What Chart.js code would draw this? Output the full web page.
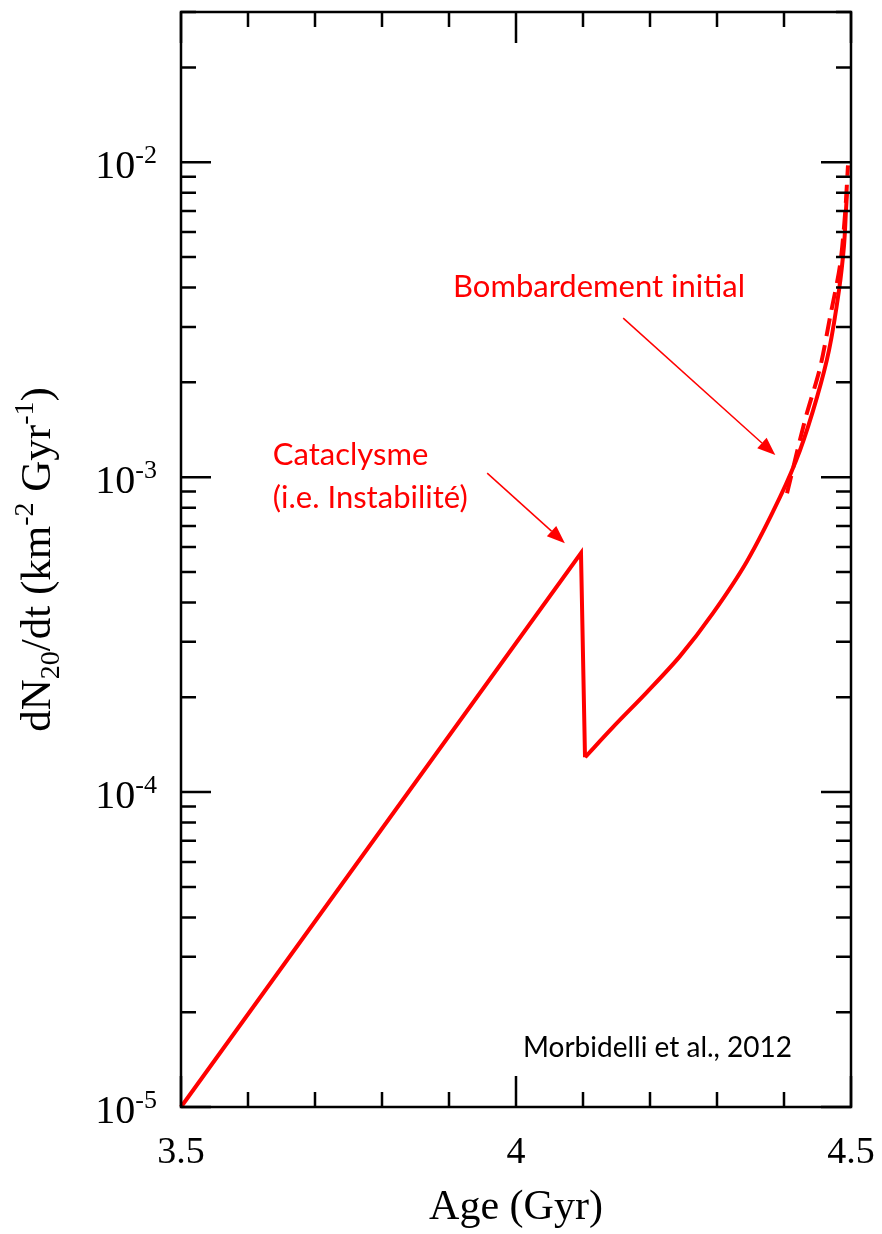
<!DOCTYPE html>
<html>
<head>
<meta charset="utf-8">
<script src="https://cdn.jsdelivr.net/npm/chart.js@4"></script>
<style>body{margin:0;background:#fff}</style>
</head>
<body>
<canvas id="rateChart" width="882" height="1234"></canvas>
<script>
// values: age (Gyr) vs dN20/dt
var ageRise = [3.5, 4.097, 4.103];
var rateRise = [1e-5, 5.74e-4, 1.29e-4];

var ageTail = [4.103, 4.1448, 4.1955, 4.2448, 4.294, 4.3448, 4.394, 4.4239, 4.4493, 4.4672, 4.4821, 4.4896, 4.4925, 4.494];
var rateTail = [1.29e-4, 1.608e-4, 2.077e-4, 2.702e-4, 3.701e-4, 5.41e-4, 8.64e-4, 1.218e-3, 1.795e-3, 2.53e-3, 3.925e-3, 5.45e-3, 7.04e-3, 7.97e-3];

var ageDashed = [4.4045, 4.4313, 4.4537, 4.4687, 4.4836, 4.491, 4.4955];
var rateDashed = [8.89e-4, 1.517e-3, 2.22e-3, 3.22e-3, 4.71e-3, 6.79e-3, 9.78e-3];

// axis ticks
var xTicks = [3.5, 3.6, 3.7, 3.8, 3.9, 4, 4.1, 4.2, 4.3, 4.4, 4.5];
var xMajor = [3.5, 4, 4.5];
var xLabels = ['3.5', '4', '4.5'];
var yExponents = [-5, -4, -3, -2];
var yMantissas = [1, 2, 3, 4, 5, 6, 7, 8, 9];
var yTop = 3e-2;

var yTicks = [];
yExponents.forEach(function (e) {
  yMantissas.forEach(function (m) {
    var v = m * Math.pow(10, e);
    if (v <= yTop * 1.0001) yTicks.push(v);
  });
});

function pts(xs, ys) {
  return xs.map(function (x, i) { return { x: x, y: ys[i] }; });
}

function isDecade(v) {
  var l = Math.log10(v);
  return Math.abs(l - Math.round(l)) < 1e-9;
}

var RED = '#ff0000';
var SERIF = '"Liberation Serif", "Times New Roman", serif';
var SANS = 'Lato, "Open Sans", sans-serif';

function arrow(ctx, x1, y1, x2, y2) {
  var ang = Math.atan2(y2 - y1, x2 - x1), len = 18, half = 7;
  var bx = x2 - len * Math.cos(ang), by = y2 - len * Math.sin(ang);
  ctx.beginPath();
  ctx.moveTo(x1, y1);
  ctx.lineTo(bx, by);
  ctx.stroke();
  ctx.beginPath();
  ctx.moveTo(x2, y2);
  ctx.lineTo(bx + half * Math.sin(ang), by - half * Math.cos(ang));
  ctx.lineTo(bx - half * Math.sin(ang), by + half * Math.cos(ang));
  ctx.closePath();
  ctx.fill();
}

var framePlugin = {
  id: 'frame',
  afterDraw: function (chart) {
    var ctx = chart.ctx, a = chart.chartArea;
    var xs = chart.scales.x, ys = chart.scales.y;
    ctx.save();

    // box + inward ticks on all sides
    ctx.strokeStyle = '#000';
    ctx.lineWidth = 2.5;
    ctx.strokeRect(a.left, a.top, a.right - a.left, a.bottom - a.top);
    ctx.beginPath();
    xTicks.forEach(function (v) {
      var px = xs.getPixelForValue(v);
      var len = xMajor.indexOf(v) >= 0 ? 31 : 15;
      ctx.moveTo(px, a.bottom); ctx.lineTo(px, a.bottom - len);
      ctx.moveTo(px, a.top); ctx.lineTo(px, a.top + len);
    });
    yTicks.forEach(function (v) {
      var py = ys.getPixelForValue(v);
      var len = isDecade(v) ? 30 : 15;
      ctx.moveTo(a.left, py); ctx.lineTo(a.left + len, py);
      ctx.moveTo(a.right, py); ctx.lineTo(a.right - len, py);
    });
    ctx.stroke();

    // x tick labels
    ctx.fillStyle = '#000';
    ctx.font = '38px ' + SERIF;
    ctx.textAlign = 'center';
    ctx.textBaseline = 'alphabetic';
    xMajor.forEach(function (v, i) {
      ctx.fillText(xLabels[i], xs.getPixelForValue(v), a.bottom + 56);
    });

    // y tick labels 10^n
    yTicks.forEach(function (v) {
      if (!isDecade(v)) return;
      var py = ys.getPixelForValue(v);
      var exp = String(Math.round(Math.log10(v)));
      ctx.textAlign = 'left';
      ctx.font = '26px ' + SERIF;
      var ew = ctx.measureText(exp).width;
      ctx.font = '40px ' + SERIF;
      var bw = ctx.measureText('10').width;
      var right = a.left - 24;
      ctx.fillText('10', right - ew - bw, py + 16);
      ctx.font = '26px ' + SERIF;
      ctx.fillText(exp, right - ew, py + 1);
    });

    // x title
    ctx.textAlign = 'center';
    ctx.font = '42px ' + SERIF;
    ctx.fillText('Age (Gyr)', (a.left + a.right) / 2, a.bottom + 112);

    // y title with sub/superscripts
    var runs = [
      { t: 'dN', s: 43, dy: 0 },
      { t: '20', s: 28, dy: 9 },
      { t: '/dt (km', s: 43, dy: 0 },
      { t: '-2', s: 28, dy: -17 },
      { t: ' Gyr', s: 43, dy: 0 },
      { t: '-1', s: 28, dy: -17 },
      { t: ')', s: 43, dy: 0 }
    ];
    var total = 0;
    runs.forEach(function (r) {
      ctx.font = r.s + 'px ' + SERIF;
      r.w = ctx.measureText(r.t).width;
      total += r.w;
    });
    ctx.save();
    ctx.translate(50, (a.top + a.bottom) / 2);
    ctx.rotate(-Math.PI / 2);
    ctx.textAlign = 'left';
    var cx = -total / 2;
    runs.forEach(function (r) {
      ctx.font = r.s + 'px ' + SERIF;
      ctx.fillText(r.t, cx, r.dy);
      cx += r.w;
    });
    ctx.restore();

    // annotations
    function X(v) { return xs.getPixelForValue(v); }
    function Y(v) { return ys.getPixelForValue(v); }
    ctx.textAlign = 'left';
    ctx.fillStyle = RED;
    ctx.strokeStyle = RED;
    ctx.lineWidth = 1.5;
    ctx.font = '31px ' + SANS;
    ctx.fillText('Bombardement initial', X(3.906), Y(3.73e-3), 329);
    ctx.fillText('Cataclysme', X(3.637), Y(1.09e-3), 164);
    ctx.fillText('(i.e. Instabilité)', X(3.637), Y(7.98e-4), 217);
    arrow(ctx, X(4.160), Y(3.20e-3), X(4.387), Y(1.175e-3));
    arrow(ctx, X(3.957), Y(1.03e-3), X(4.073), Y(6.17e-4));

    ctx.fillStyle = '#000';
    ctx.font = '28px ' + SANS;
    ctx.fillText('Morbidelli et al., 2012', X(4.0104), Y(1.44e-5), 284);

    ctx.restore();
  }
};

var rateChart = new Chart(document.getElementById('rateChart'), {
  type: 'line',
  data: {
    datasets: [{
      data: pts(ageRise, rateRise),
      borderColor: RED,
      borderWidth: 4,
      pointRadius: 0,
      tension: 0
    }, {
      data: pts(ageTail, rateTail),
      borderColor: RED,
      borderWidth: 4,
      pointRadius: 0,
      tension: 0.3
    }, {
      data: pts(ageDashed, rateDashed),
      borderColor: RED,
      borderWidth: 4,
      borderDash: [18, 9],
      pointRadius: 0,
      tension: 0.3
    }]
  },
  options: {
    responsive: false,
    animation: false,
    clip: false,
    layout: { padding: { left: 181, right: 31, top: 12, bottom: 127 } },
    plugins: { legend: { display: false }, tooltip: { enabled: false } },
    scales: {
      x: {
        type: 'linear',
        display: false,
        min: 3.5,
        max: 4.5
      },
      y: {
        type: 'logarithmic',
        display: false,
        min: 1e-5,
        max: yTop
      }
    }
  },
  plugins: [framePlugin]
});
</script>
</body>
</html>
